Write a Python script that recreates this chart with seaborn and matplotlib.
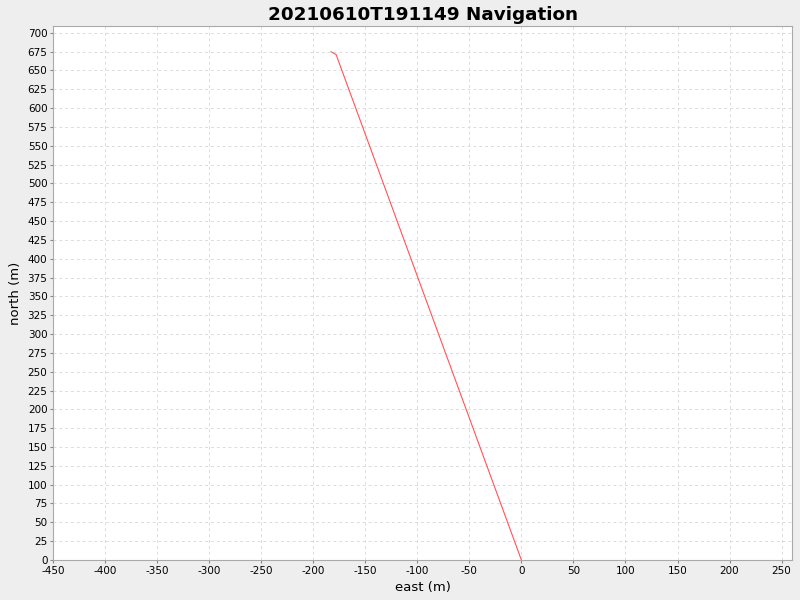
import matplotlib
matplotlib.use("Agg")
import matplotlib.pyplot as plt
import numpy as np
import pandas as pd
import seaborn as sns

# track points
east = [0, -178, -183]
north = [0, 671, 675]
order = [0, 1, 2]

df = pd.DataFrame({'east': east, 'north': north, 'order': order})

sns.set_style('white')
plt.rcParams['font.family'] = ['DejaVu Sans']
plt.rcParams['axes.unicode_minus'] = False
plt.rcParams['text.color'] = 'black'
plt.rcParams['axes.labelcolor'] = 'black'
plt.rcParams['xtick.color'] = 'black'
plt.rcParams['ytick.color'] = 'black'

fig = plt.figure(figsize=(8, 6), dpi=100, facecolor='#eeeeee')
ax = fig.add_axes([0.06625, 0.0667, 0.92375, 0.89])
ax.set_facecolor('white')

sns.lineplot(data=df, x='east', y='north', sort=False, estimator=None,
             color='#ff5555', linewidth=0.8, ax=ax)

ax.set_xlim(-450, 260)
ax.set_ylim(0, 709)
ax.set_xticks(np.arange(-450, 251, 50))
ax.set_yticks(np.arange(0, 701, 25))
ax.grid(True, color='#dcdcdc', linestyle=(0, (3, 3)), linewidth=0.7)
for s in ax.spines.values():
    s.set_color('#aaaaaa')
    s.set_linewidth(0.8)
ax.tick_params(axis='both', labelsize=7.5, length=2, color='#888888', labelcolor='black',
               direction='out', left=True, bottom=True, pad=2)
ax.set_xlabel('east (m)', fontsize=9.5, color='black')
ax.set_ylabel('north (m)', fontsize=9.5, color='black')
ax.set_title('20210610T191149 Navigation', fontsize=13.2, fontweight='bold', pad=4, color='black')

fig.savefig('out.png', dpi=100, facecolor=fig.get_facecolor())
